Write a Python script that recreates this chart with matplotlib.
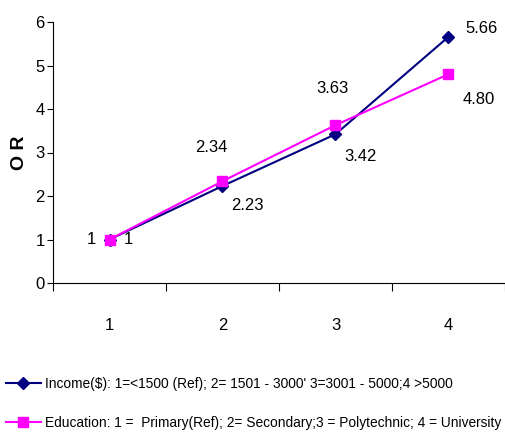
import matplotlib
matplotlib.use("Agg")
import matplotlib.pyplot as plt
from matplotlib.ticker import FixedLocator, NullFormatter

plt.rcParams['font.family'] = ['Liberation Sans', 'DejaVu Sans']

categories = [1, 2, 3, 4]
income = [1, 2.23, 3.42, 5.66]
education = [1, 2.34, 3.63, 4.80]
income_labels = ["1", "2.23", "3.42", "5.66"]
education_labels = ["1", "2.34", "3.63", "4.80"]
income_name = "Income($): 1=<1500 (Ref); 2= 1501 - 3000' 3=3001 - 5000;4 >5000"
education_name = "Education: 1 =  Primary(Ref); 2= Secondary;3 = Polytechnic; 4 = University"

navy = "#000080"
magenta = "#FF00FF"

fig = plt.figure(figsize=(5.06, 4.41), dpi=100)
ax = fig.add_axes([53 / 506, 1 - 283 / 441, 452 / 506, 261 / 441])

l1, = ax.plot(categories, income, color=navy, lw=1.5, marker="D", ms=6, label=income_name)
l2, = ax.plot(categories, education, color=magenta, lw=1.5, marker="s", ms=7, label=education_name)

# data labels
inc_off = [(10, 0), (6, -14), (6, -16), (12, 6)]
edu_off = [(-10, 0), (-8, 24), (-2, 26), (10, -18)]
for x, y, t, o in zip(categories, income, income_labels, inc_off):
    ax.annotate(t, (x, y), xytext=o, textcoords="offset points", fontsize=12,
                ha="left" if o[0] > 0 else "center", va="center")
for x, y, t, o in zip(categories, education, education_labels, edu_off):
    ax.annotate(t, (x, y), xytext=o, textcoords="offset points", fontsize=12,
                ha="right" if o[0] < -9 else ("center" if o[0] <= 0 else "left"), va="center")

ax.set_xlim(0.5, 4.5)
ax.set_ylim(0, 6)
ax.set_yticks(range(7))
ax.xaxis.set_major_locator(FixedLocator([0.5, 1.5, 2.5, 3.5, 4.5]))
ax.xaxis.set_major_formatter(NullFormatter())
ax.xaxis.set_minor_locator(FixedLocator(categories))
ax.set_xticklabels([str(c) for c in categories], minor=True)
ax.tick_params(axis="x", which="major", length=6, direction="out")
ax.tick_params(axis="x", which="minor", length=0, pad=25, labelsize=12)
ax.tick_params(axis="y", length=4, direction="out", labelsize=12, pad=2)
ax.spines["top"].set_visible(False)
ax.spines["right"].set_visible(False)
ax.set_ylabel("O R", fontsize=14, fontweight="bold", labelpad=5)

fig.legend(handles=[l1, l2], loc="lower left", bbox_to_anchor=(0.0, 0.012), frameon=False,
           fontsize=9.9, handlelength=2.6, handletextpad=0.3, labelspacing=1.85,
           borderaxespad=0.4, borderpad=0.0)

fig.savefig("out.png", dpi=100)
